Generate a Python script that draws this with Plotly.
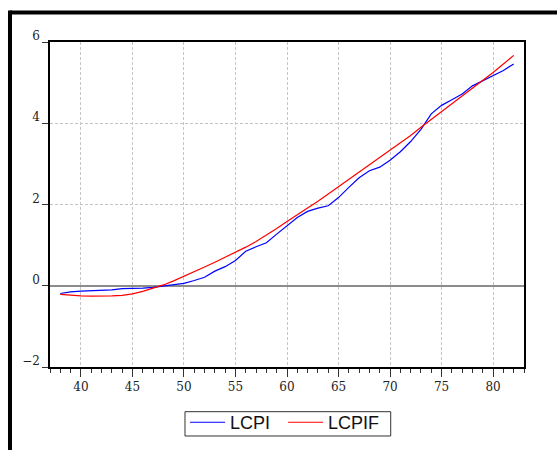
import plotly.graph_objects as go

years = list(range(38, 83))
lcpi = [-0.19, -0.15, -0.13, -0.12, -0.12, -0.10, -0.07, -0.07, -0.06, -0.04,
        -0.01, 0.02, 0.06, 0.13, 0.21, 0.36, 0.47, 0.62, 0.85, 0.96,
        1.06, 1.27, 1.47, 1.68, 1.83, 1.91, 1.97, 2.17, 2.42, 2.66,
        2.83, 2.92, 3.09, 3.30, 3.55, 3.85, 4.23, 4.44, 4.58, 4.72,
        4.92, 5.05, 5.16, 5.30, 5.46]
lcpif = [-0.21, -0.235, -0.25, -0.255, -0.255, -0.25, -0.235, -0.20, -0.14, -0.06,
         0.02, 0.12, 0.23, 0.34, 0.46, 0.58, 0.70, 0.82, 0.95, 1.09,
         1.24, 1.41, 1.58, 1.74, 1.91, 2.08, 2.26, 2.44, 2.61, 2.78,
         2.96, 3.14, 3.32, 3.51, 3.70, 3.90, 4.09, 4.28, 4.47, 4.66,
         4.85, 5.05, 5.25, 5.46, 5.67]
x_ticks = [40, 45, 50, 55, 60, 65, 70, 75, 80]
y_ticks = [-2, 0, 2, 4, 6]

fig = go.Figure()
fig.add_trace(go.Scatter(x=years, y=lcpi, mode="lines", name="LCPI",
                         line=dict(color="#0000ff", width=1.2)))
fig.add_trace(go.Scatter(x=years, y=lcpif, mode="lines", name="LCPIF",
                         line=dict(color="#ff0000", width=1.2)))

tick_font = dict(family="DejaVu Serif", size=12, color="#222222")

fig.update_layout(
    width=557, height=450,
    margin=dict(l=50, r=33, t=42, b=83, autoexpand=False),
    paper_bgcolor="white", plot_bgcolor="white",
    showlegend=True,
    legend=dict(orientation="h", x=0.285, y=-0.114, xanchor="left", yanchor="top",
                borderwidth=0, entrywidth=48, itemwidth=35, tracegroupgap=0,
                font=dict(family="Liberation Sans", size=18, color="#111111"),
                bgcolor="rgba(0,0,0,0)"),
    xaxis=dict(range=[37, 83], tickvals=x_ticks, ticks="outside", ticklen=8,
               tickcolor="#333333", tickwidth=1.2,
               minor=dict(dtick=1, tick0=0, ticks="outside", ticklen=4,
                          tickcolor="#333333", tickwidth=1.2, showgrid=False),
               showgrid=True, gridcolor="#c4c4c4", griddash="3px,2px", gridwidth=1,
               showline=True, linecolor="black", linewidth=1.5, mirror=True,
               zeroline=False, tickfont=tick_font),
    yaxis=dict(range=[-2, 6], tickvals=y_ticks, ticks="outside", ticklen=6,
               tickcolor="#333333", tickwidth=1.2, ticklabelshift=-6,
               showgrid=True, gridcolor="#c4c4c4", griddash="3px,2px", gridwidth=1,
               showline=True, linecolor="black", linewidth=1.5, mirror=True,
               zeroline=True, zerolinecolor="#8c8c8c", zerolinewidth=1.5,
               tickfont=tick_font),
    shapes=[
        dict(type="line", xref="paper", yref="paper", x0=-0.0844, x1=1.2,
             y0=1.0908, y1=1.0908, line=dict(color="black", width=4)),
        dict(type="line", xref="paper", yref="paper", x0=-0.0844, x1=-0.0844,
             y0=1.0908 + 0.006, y1=-0.4, line=dict(color="black", width=4)),
        dict(type="rect", xref="paper", yref="paper", x0=0.2848, x1=0.7188,
             y0=-0.1375, y1=-0.2123, line=dict(color="#333333", width=1),
             fillcolor="rgba(255,255,255,0.6)", layer="below"),
    ],
)

fig.write_html("out.html")
